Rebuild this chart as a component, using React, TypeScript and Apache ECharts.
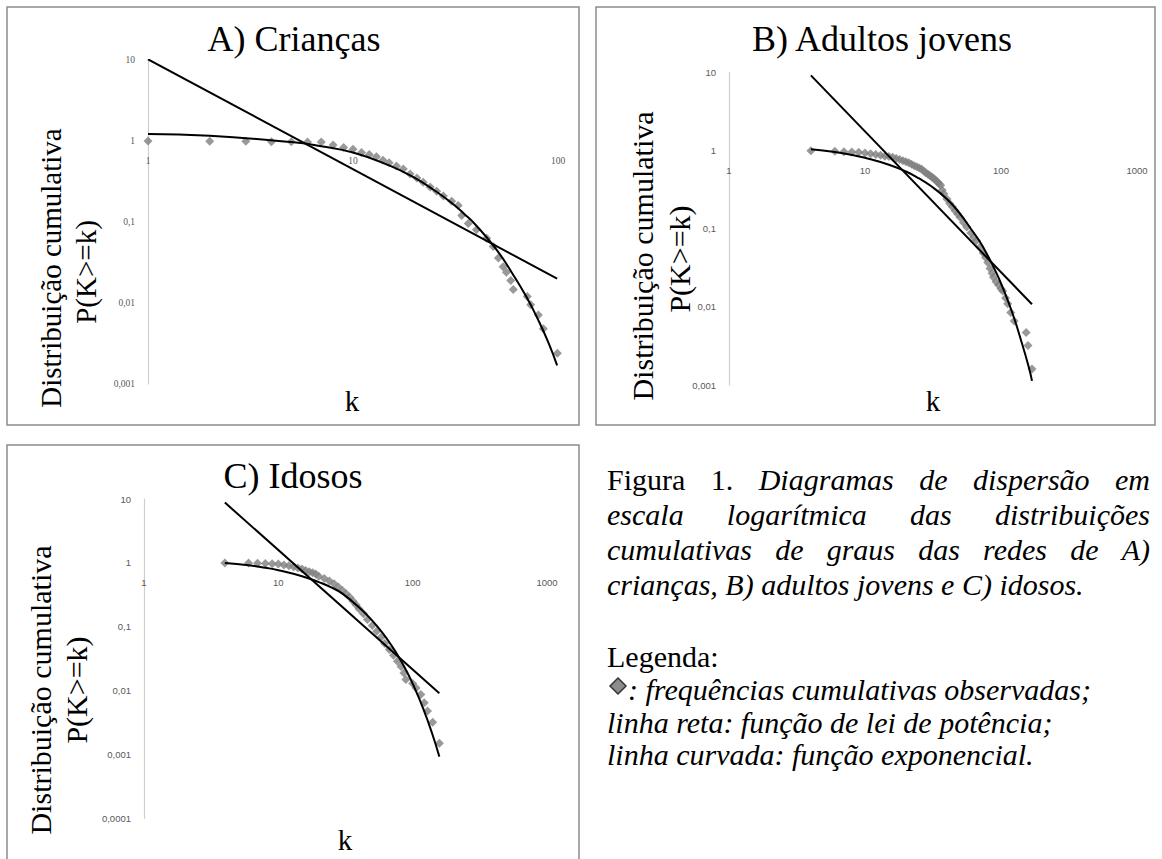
import React, { useEffect, useRef } from "react";
import * as echarts from "echarts";

// ---------- Panel A: Crianças ----------
const kA = [1, 2, 3, 4, 5, 6, 7, 8, 9, 10, 11, 12, 13, 14, 15, 16.3, 17.6, 19, 20.5, 22, 23.8, 25.6, 27.6, 30.3, 32.6, 33.9, 36.5, 40, 44.9, 48.3, 51.2, 54, 56, 58.8, 60.5, 70.8, 73.6, 80.2, 84.8, 99.3];
const pA = [1.0, 0.99, 0.99, 0.98, 0.98, 0.97, 0.97, 0.89, 0.83, 0.79, 0.72, 0.68, 0.64, 0.58, 0.54, 0.49, 0.45, 0.39, 0.35, 0.31, 0.27, 0.24, 0.21, 0.18, 0.16, 0.12, 0.096, 0.08, 0.063, 0.05, 0.036, 0.028, 0.024, 0.019, 0.0147, 0.012, 0.0095, 0.0071, 0.0048, 0.0024];
const kAPow = [1, 99];
const pAPow = [10.2, 0.02];
const kAExp = [1, 2, 5, 7, 10, 15, 20, 25, 30, 35, 40, 50, 60, 70, 80, 90, 99];
const pAExp = [1.22, 1.16, 0.97, 0.86, 0.72, 0.5, 0.35, 0.245, 0.175, 0.125, 0.09, 0.046, 0.023, 0.012, 0.0062, 0.0032, 0.0017];

// ---------- Panel B: Adultos jovens ----------
const kB = [4, 6, 7, 8, 9, 10, 11, 12, 13, 14, 15, 16, 17, 18, 19, 20, 21, 22, 23, 24, 25, 26, 27, 28, 29, 30, 31, 32, 33, 34, 35, 36, 37, 38, 40, 42, 44, 46, 48, 50, 53, 56, 60, 63, 66, 70, 74, 77, 80, 83, 86, 88, 92, 96, 100, 103, 108, 112, 118, 125, 153, 158, 169];
const pB = [1, 0.98, 0.97, 0.96, 0.95, 0.93, 0.91, 0.89, 0.87, 0.85, 0.84, 0.82, 0.79, 0.77, 0.74, 0.72, 0.7, 0.67, 0.64, 0.62, 0.6, 0.58, 0.55, 0.52, 0.5, 0.48, 0.46, 0.44, 0.42, 0.4, 0.38, 0.36, 0.31, 0.28, 0.24, 0.21, 0.19, 0.17, 0.155, 0.14, 0.12, 0.105, 0.088, 0.078, 0.07, 0.058, 0.049, 0.043, 0.037, 0.031, 0.027, 0.024, 0.021, 0.019, 0.017, 0.016, 0.013, 0.011, 0.0085, 0.0066, 0.0047, 0.0032, 0.0016];
const kBPow = [4, 169];
const pBPow = [9.2, 0.0108];
const kBExp = [4, 6, 8, 10, 15, 20, 25, 30, 40, 50, 60, 70, 80, 90, 100, 120, 140, 160, 169];
const pBExp = [1.04, 0.96, 0.88, 0.81, 0.66, 0.54, 0.44, 0.36, 0.24, 0.155, 0.1, 0.068, 0.045, 0.03, 0.02, 0.0088, 0.0038, 0.0017, 0.00113];

// ---------- Panel C: Idosos ----------
const kC = [4, 6, 7, 8, 9, 10, 11, 12, 13, 14, 15, 16, 17, 18, 19, 20, 22, 24, 26, 28, 30, 32, 34, 36, 38, 40, 43, 46, 50, 54, 58, 62, 67, 72, 77, 82, 86, 89, 100, 106, 115, 122, 129, 141, 158];
const pC = [1, 1, 0.99, 0.98, 0.97, 0.96, 0.93, 0.9, 0.87, 0.83, 0.8, 0.76, 0.73, 0.7, 0.67, 0.62, 0.57, 0.52, 0.47, 0.42, 0.37, 0.33, 0.29, 0.25, 0.22, 0.19, 0.16, 0.13, 0.105, 0.085, 0.068, 0.055, 0.044, 0.036, 0.029, 0.024, 0.019, 0.015, 0.013, 0.011, 0.0087, 0.0065, 0.0048, 0.0032, 0.0015];
const kCPow = [4, 158];
const pCPow = [8.8, 0.0091];
const kCExp = [4, 6, 8, 10, 15, 20, 25, 30, 40, 50, 60, 70, 80, 90, 100, 120, 140, 158];
const pCExp = [1.0, 0.92, 0.84, 0.77, 0.62, 0.5, 0.41, 0.33, 0.2, 0.125, 0.079, 0.05, 0.032, 0.0203, 0.0129, 0.0052, 0.0021, 0.00093];

// axis ranges
const xMax = [100, 1000, 1000];
const yMin = [0.001, 0.001, 0.0001];
const yMax = [10, 10, 10];

const titles = ["A) Crianças", "B) Adultos jovens", "C) Idosos"];
const yName1 = "Distribuição cumulativa";
const yName2 = "P(K>=k)";
const xName = "k";

const SERIF = "Liberation Serif";
const SANS = "Liberation Sans";

const pairs = (k: number[], p: number[]) => k.map((v, i) => [v, p[i]]);
const fmt = (v: number) => String(parseFloat(Number(v).toPrecision(6))).replace(".", ",");

function txt(text: string, x: number, y: number, size: number, o: any = {}) {
  const align = o.align || "center";
  return {
    type: "text",
    x,
    y,
    rotation: o.rot || 0,
    silent: true,
    style: {
      text,
      font: `${o.italic ? "italic " : ""}${size}px "Liberation Serif"`,
      fill: "#000",
      textAlign: align,
      textVerticalAlign: "middle",
    },
  };
}

export default function App() {
  const ref = useRef<HTMLDivElement>(null);

  useEffect(() => {
    if (!ref.current) return;
    const chart = echarts.init(ref.current, undefined, { renderer: "svg" });

    const grids = [
      { left: 148, top: 60, width: 410, height: 324 },
      { left: 729, top: 72.5, width: 408, height: 312.5 },
      { left: 144, top: 499, width: 403, height: 319.5 },
    ];
    // position of y = 1 inside each grid -> offset of x axis (Excel: axis crosses at 1)
    const xOffsets = grids.map((g, i) => {
      const decades = Math.log10(yMax[i]) - Math.log10(yMin[i]);
      const yOne = g.top + (g.height * Math.log10(yMax[i])) / decades;
      return -(g.top + g.height - yOne);
    });
    const labelFonts = [SERIF, SANS, SANS];

    const xAxis = grids.map((g, i) => ({
      type: "log",
      logBase: 10,
      gridIndex: i,
      min: 1,
      max: xMax[i],
      offset: xOffsets[i],
      axisLine: { show: false, onZero: false },
      axisTick: { show: false },
      splitLine: { show: false },
      axisLabel: {
        margin: 15,
        fontSize: 9.5,
        fontFamily: labelFonts[i],
        color: "#595959",
        showMinLabel: true,
        showMaxLabel: true,
        formatter: fmt,
      },
    }));
    const yAxis = grids.map((g, i) => ({
      type: "log",
      logBase: 10,
      gridIndex: i,
      min: yMin[i],
      max: yMax[i],
      axisLine: { show: true, lineStyle: { color: "#cfcfcf", width: 1.2 } },
      axisTick: { show: false },
      splitLine: { show: false },
      axisLabel: {
        margin: 13,
        fontSize: 9.5,
        fontFamily: labelFonts[i],
        color: "#595959",
        showMinLabel: true,
        showMaxLabel: true,
        formatter: fmt,
      },
    }));

    const scat = [pairs(kA, pA), pairs(kB, pB), pairs(kC, pC)];
    const pow = [pairs(kAPow, pAPow), pairs(kBPow, pBPow), pairs(kCPow, pCPow)];
    const expo = [pairs(kAExp, pAExp), pairs(kBExp, pBExp), pairs(kCExp, pCExp)];

    const series: any[] = [];
    for (let i = 0; i < 3; i++) {
      series.push({
        type: "scatter",
        xAxisIndex: i,
        yAxisIndex: i,
        symbol: "diamond",
        symbolSize: 9,
        itemStyle: { color: "#7f7f7f" },
        z: 2,
        data: scat[i],
      });
      series.push({
        type: "line",
        xAxisIndex: i,
        yAxisIndex: i,
        symbol: "none",
        lineStyle: { color: "#000", width: 2 },
        z: 3,
        data: pow[i],
      });
      series.push({
        type: "line",
        xAxisIndex: i,
        yAxisIndex: i,
        symbol: "none",
        smooth: true,
        lineStyle: { color: "#000", width: 2 },
        z: 3,
        data: expo[i],
      });
    }

    // ----- caption with justified lines -----
    const FS = 30;
    const ctx = document.createElement("canvas").getContext("2d") as CanvasRenderingContext2D;
    const measure = (t: string, it: boolean) => {
      ctx.font = `${it ? "italic " : ""}${FS}px "Liberation Serif"`;
      return ctx.measureText(t).width;
    };
    const L = 607;
    const R = 1150;
    const justify = (words: [string, boolean][], y: number) => {
      const widths = words.map(([t, it]) => measure(t, it));
      const total = widths.reduce((a, b) => a + b, 0);
      const gap = (R - L - total) / (words.length - 1);
      let x = L;
      return words.map(([t, it], i) => {
        const el = txt(t, x, y, FS, { italic: it, align: "left" });
        x += widths[i] + gap;
        return el;
      });
    };
    const line1: [string, boolean][] = [["Figura", false], ["1.", false], ["Diagramas", true], ["de", true], ["dispersão", true], ["em", true]];
    const line2: [string, boolean][] = "escala logarítmica das distribuições".split(" ").map((w) => [w, true]);
    const line3: [string, boolean][] = "cumulativas de graus das redes de A)".split(" ").map((w) => [w, true]);

    const graphic: any[] = [
      { type: "rect", silent: true, shape: { x: 7, y: 7, width: 572, height: 418 }, style: { fill: "none", stroke: "#8c8c8c", lineWidth: 1.5 } },
      { type: "rect", silent: true, shape: { x: 596, y: 7, width: 559, height: 418 }, style: { fill: "none", stroke: "#8c8c8c", lineWidth: 1.5 } },
      { type: "rect", silent: true, shape: { x: 7, y: 445, width: 572, height: 420 }, style: { fill: "none", stroke: "#8c8c8c", lineWidth: 1.5 } },
      txt(titles[0], 294, 39, 36),
      txt(titles[1], 882, 39, 36),
      txt(titles[2], 293, 476, 36),
      txt(yName1, 51, 268, 29, { rot: Math.PI / 2 }),
      txt(yName2, 86, 272, 29, { rot: Math.PI / 2 }),
      txt(yName1, 642, 256, 30, { rot: Math.PI / 2 }),
      txt(yName2, 679, 259, 30, { rot: Math.PI / 2 }),
      txt(yName1, 40, 690, 30, { rot: Math.PI / 2 }),
      txt(yName2, 76, 690, 30, { rot: Math.PI / 2 }),
      txt(xName, 352, 401, 29),
      txt(xName, 933, 401, 29),
      txt(xName, 345, 840, 29),
      ...justify(line1, 479),
      ...justify(line2, 514),
      ...justify(line3, 549),
      txt("crianças, B) adultos jovens e C) idosos.", L, 584, FS, { italic: true, align: "left" }),
      txt("Legenda:", L, 656, FS, { align: "left" }),
      {
        type: "polygon",
        silent: true,
        shape: { points: [[618, 678], [626, 686], [618, 694], [610, 686]] },
        style: { fill: "#8c8c8c", stroke: "#333", lineWidth: 1.5 },
      },
      txt(": frequências cumulativas observadas;", 628, 689, FS, { italic: true, align: "left" }),
      txt("linha reta: função de lei de potência;", L, 722, FS, { italic: true, align: "left" }),
      txt("linha curvada: função exponencial.", L, 754, FS, { italic: true, align: "left" }),
    ];

    chart.setOption({
      animation: false,
      backgroundColor: "#fff",
      grid: grids.map((g) => ({ ...g, containLabel: false })),
      xAxis,
      yAxis,
      series,
      graphic,
    });

    return () => chart.dispose();
  }, []);

  return (
    <div
      ref={ref}
      style={{ position: "absolute", left: 0, top: 0, width: 1162, height: 859 }}
    />
  );
}
